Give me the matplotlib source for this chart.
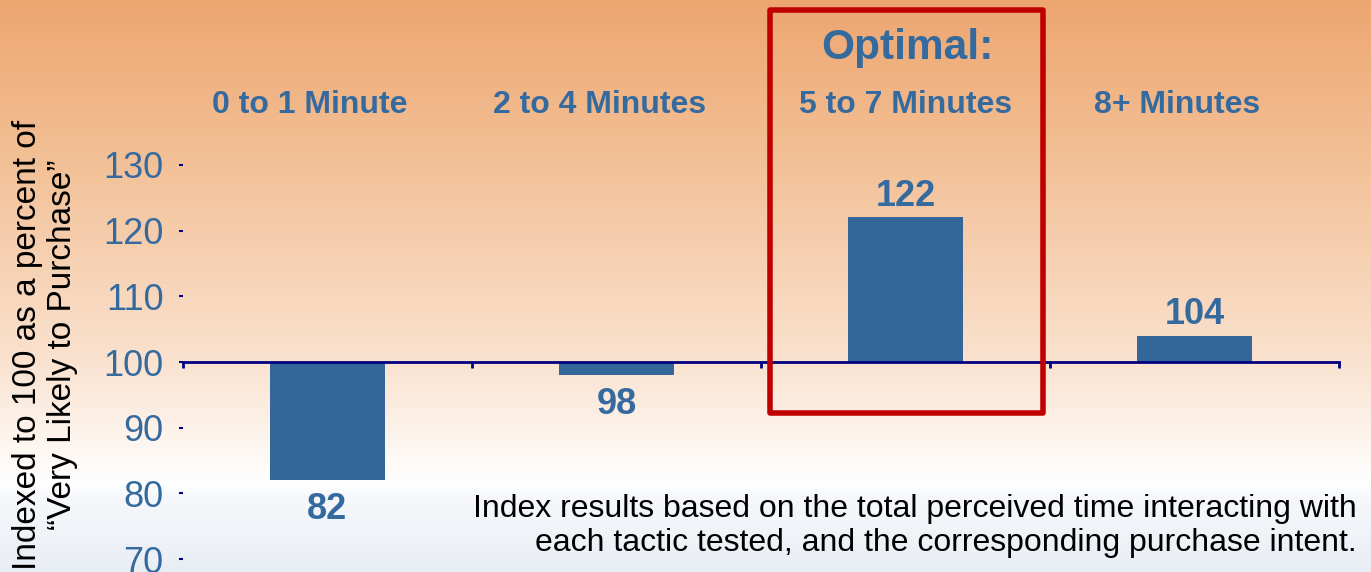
import matplotlib
matplotlib.use("Agg")
import matplotlib.pyplot as plt
import numpy as np
from matplotlib.patches import Rectangle

plt.rcParams['font.family'] = ['Liberation Sans', 'DejaVu Sans']

categories = ["0 to 1 Minute", "2 to 4 Minutes", "5 to 7 Minutes", "8+ Minutes"]
values = [82, 98, 122, 104]
y_ticks = [70, 80, 90, 100, 110, 120, 130]
highlight = 2
ylabel = "Indexed to 100 as a percent of\n\u201cVery Likely to Purchase\u201d"
note = ("Index results based on the total perceived time interacting with\n"
        "each tactic tested, and the corresponding purchase intent.")

bar_color = "#336699"
text_blue = "#356A9E"
navy = "#000080"

W, H = 1371, 572
fig = plt.figure(figsize=(W / 100, H / 100), dpi=100)

# background gradient: orange at top, white, then pale blue-grey at bottom
bg = fig.add_axes([0, 0, 1, 1])
bg.set_axis_off()
stops = [(0.0, (237, 166, 112)), (0.29, (243, 193, 152)), (0.63, (250, 226, 207)),
         (0.845, (255, 255, 255)), (0.87, (246, 248, 251)), (1.0, (233, 238, 245))]
rows = np.linspace(0, 1, H)
pos = [s[0] for s in stops]
grad = np.zeros((H, 1, 3))
for c in range(3):
    grad[:, 0, c] = np.interp(rows, pos, [s[1][c] for s in stops]) / 255
bg.imshow(grad, aspect="auto", extent=(0, 1, 0, 1))
bg.set_xlim(0, 1)
bg.set_ylim(0, 1)

ax = fig.add_axes([183 / W, 0, (1339 - 183) / W, 1])
ax.patch.set_alpha(0)
ax.set_xlim(-0.5, 3.5)
ax.set_ylim(68.04, 155.1)

x = np.arange(len(values))
vals = np.array(values)
ax.bar(x, vals - 100, bottom=100, width=0.4, color=bar_color, zorder=1)

for s in ["top", "right", "left"]:
    ax.spines[s].set_visible(False)
ax.spines["bottom"].set_position(("data", 100))
ax.spines["bottom"].set_color(navy)
ax.spines["bottom"].set_linewidth(2)
ax.set_xticks(np.arange(len(values) + 1) - 0.5)
ax.set_xticklabels([])
ax.tick_params(axis="x", length=4, width=2, color=navy, direction="out")
ax.set_yticks(y_ticks)
ax.set_yticklabels([str(t) for t in y_ticks])
ax.tick_params(axis="y", length=3, width=1.5, color=navy, pad=11,
               labelsize=26, labelcolor=text_blue)

for xi, v in zip(x, values):
    off = 15 if v >= 100 else -21
    ax.annotate(str(v), (xi, v), xytext=(0, off), textcoords="offset points",
                ha="center", va="center", fontsize=26, fontweight="bold",
                color=text_blue)

tr = ax.get_xaxis_transform()
for xi, cat in zip(x, categories):
    dx = 0.0 if xi == highlight else -0.06
    ax.text(xi + dx, 1 - 105 / H, cat, transform=tr, ha="center", va="center",
            fontsize=23, fontweight="bold", color=text_blue)
ax.text(highlight + 0.005, 1 - 48 / H, "Optimal:", transform=tr, ha="center",
        va="center", fontsize=30.5, fontweight="bold", color=text_blue)

ax.add_patch(Rectangle((highlight - 0.469, 92.2), 0.945, 61.4, fill=False,
                       ec="#C00000", lw=4, joinstyle="round", clip_on=False,
                       zorder=3))

fig.text(45 / W, 1 - 345 / H, ylabel, rotation=90, ha="center", va="center",
         fontsize=24, color="black", multialignment="center")

fig.text(1357 / W, 1 - 526 / H, note, ha="right", va="center",
         fontsize=23, color="black", multialignment="right", linespacing=1.2)

fig.savefig("out.png", dpi=100)
